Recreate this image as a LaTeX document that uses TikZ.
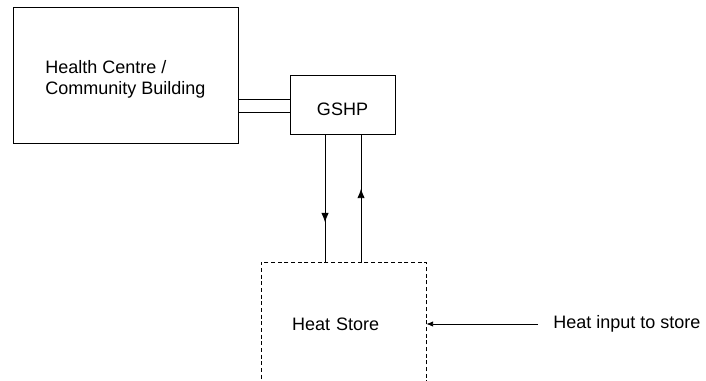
\documentclass[tikz,border=0pt]{standalone}
\usepackage{fontspec}
\setmainfont{Liberation Sans}
\usetikzlibrary{arrows.meta,positioning,decorations.markings}
\newcommand{\lowtext}[1]{\raisebox{-3.4pt}[\height][\depth]{#1}}
\begin{document}
\begin{tikzpicture}[x=0.75pt,y=0.75pt,line width=0.6pt,
 font=\fontsize{13.5pt}{15.75pt}\selectfont,
 box/.style={draw,inner sep=0},
 tip/.style={-{Latex[length=5pt,width=4pt]}},
 flowat/.style={postaction={decorate},decoration={markings,
   mark=at position #1 with {\arrow{Latex[length=7pt,width=5.5pt]}}}}]
\useasboundingbox (0,0) rectangle (706,380);
\node[box,minimum width=168.75pt,minimum height=102pt] (bldg) at (125.5,305)
 {\lowtext{\begin{tabular}{@{}l@{}}Health Centre /\\Community Building\end{tabular}}};
\node[box,minimum width=78.75pt,minimum height=44.6pt] (gshp) at (342.5,275.25) {\lowtext{GSHP}};
\node[draw,dash pattern=on 3pt off 2pt,minimum height=93pt,inner xsep=23.25pt,inner ysep=0,text width=77.25pt,align=left] (store) at (343.5,56) {Heat Store};
\node[anchor=west,inner sep=0] (input) at (553,56) {Heat input to store};
% pipes building - heat pump
\coordinate (p1) at ([yshift=3.9pt]gshp.west);
\coordinate (p2) at ([yshift=-6pt]gshp.west);
\draw (p1) -- (p1 -| bldg.east);
\draw (p2) -- (p2 -| bldg.east);
% flow and return to store
\coordinate (d1) at ([xshift=-13.1pt]gshp.south);
\coordinate (u1) at ([xshift=13.9pt]gshp.south);
\draw[flowat=0.69] (d1) -- (d1 |- store.north);
\draw[flowat=0.575] (u1 |- store.north) -- (u1);
\coordinate[left=11.25pt of input] (src);
\draw[tip] (src) -- (store);
\end{tikzpicture}
\end{document}
